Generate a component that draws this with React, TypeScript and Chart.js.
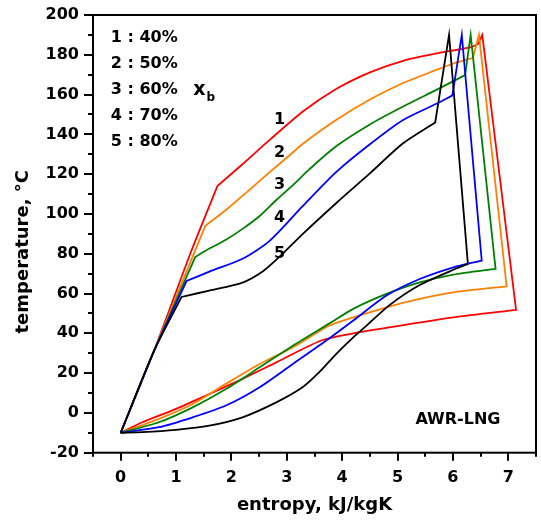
import React, { useEffect, useRef } from 'react';
import { Chart, registerables } from 'chart.js';

Chart.register(...registerables);

const FONT = '"DejaVu Sans", "Liberation Sans", sans-serif';

// ---- axes ----
const X_MIN = -0.5;
const X_MAX = 7.5;
const X_STEP = 0.5;
const Y_MIN = -20;
const Y_MAX = 200;
const Y_STEP = 20;
const Y_MINOR = 10;
const X_TITLE = 'entropy, kJ/kgK';
const Y_TITLE = 'temperature, °C';

// ---- series (entropy kJ/kgK, temperature °C) ----
const seriesNames = ['1 : 40%', '2 : 50%', '3 : 60%', '4 : 70%', '5 : 80%'];
const curveTags = ['1', '2', '3', '4', '5'];
const seriesColors = ['#ff0000', '#ff8000', '#008000', '#0000ff', '#000000'];

// curve 1 (40%)
const rise1 = [[0, -10], [0.6, 31], [1.27, 81]];
const hot1 = [[1.75, 114.2], [2.2, 125], [2.69, 137.2], [3.29, 151.5], [3.89, 162.8], [4.5, 171.2], [5.1, 177], [5.71, 180.7], [6.31, 183.7], [6.45, 185.3]];
const peak1 = [6.53, 190];
const cold1 = [[7.14, 51.8], [6.01, 48], [4.8, 42.8], [4.2, 40], [3.62, 36.4], [2.81, 25.4], [2.2, 17.1], [1.6, 9.5], [1, 2], [0.39, -4.7], [0, -10]];

// curve 2 (50%)
const rise2 = [[0, -10], [0.6, 31]];
const hot2 = [[1.53, 94.1], [1.9, 102], [2.32, 112], [2.69, 121], [3.05, 129.5], [3.29, 135.3], [3.89, 147.2], [4.5, 157.5], [5.1, 165.8], [5.71, 172.5], [6.0, 175.5], [6.36, 178.5]];
const peak2 = [6.47, 190];
const cold2 = [[6.97, 63.6], [6.01, 60.6], [5.4, 57.3], [4.8, 53.1], [4.2, 48], [3.77, 43.9], [3.11, 33], [2.51, 24.6], [1.9, 14.6], [1.3, 4.5], [0.69, -3], [0, -10]];

// curve 3 (60%)
const rise3 = [[0, -10], [0.6, 31]];
const hot3 = [[1.35, 78.5], [1.6, 82.6], [1.9, 87], [2.2, 92.5], [2.51, 99], [2.81, 107], [3.11, 114.5], [3.41, 122.5], [3.89, 134], [4.5, 145], [5.1, 154], [5.71, 162.5], [6.22, 169.8]];
const peak3 = [6.32, 190];
const cold3 = [[6.77, 72.4], [6.01, 69.5], [5.4, 65.6], [4.8, 59.8], [4.2, 52.3], [3.77, 45], [3.11, 33.8], [2.51, 22.9], [1.9, 12], [1.3, 2.8], [0.69, -4.7], [0, -10]];

// curve 4 (70%)
const rise4 = [[0, -10], [0.6, 31]];
const hot4 = [[1.19, 66.3], [1.6, 71], [2.2, 77.5], [2.69, 86.5], [3.29, 104], [3.89, 121], [4.5, 135], [5.1, 147.2], [5.71, 155.5], [5.99, 159.6]];
const peak4 = [6.16, 190];
const cold4 = [[6.52, 76.5], [6.01, 73.2], [5.4, 67.3], [4.8, 59], [4.2, 46.4], [3.77, 37.5], [3.11, 24.6], [2.51, 12.9], [1.9, 3.7], [1.3, -2.2], [0.69, -7.2], [0, -10]];

// curve 5 (80%)
const rise5 = [[0, -10], [0.6, 31]];
const hot5 = [[1.1, 58.3], [1.6, 61.5], [2.2, 65.5], [2.57, 71.2], [2.87, 78.5], [3.29, 90], [3.89, 105.4], [4.5, 120.4], [5.1, 135.5], [5.68, 146]];
const peak5 = [5.93, 190];
const cold5 = [[6.27, 74.9], [6.07, 72.7], [5.4, 64.3], [4.86, 54.3], [4.39, 42.6], [4.2, 38], [3.89, 29.6], [3.59, 20.6], [3.29, 13], [2.81, 5.3], [2.2, -2.2], [1.6, -6.4], [1, -8.5], [0.39, -9.7], [0, -10]];

// ---- annotations (data units) ----
const legendS = -0.18;
const legendT = [188.5, 175.5, 162.5, 149.4, 136.2];
const xbText = 'x';
const xbSub = 'b';
const xbS = 1.31;
const xbT = 159.8;
const tagS = 2.87;
const tagT = [147.2, 130.5, 114.6, 97.8, 79.9];
const noteText = 'AWR-LNG';
const noteS = 6.09;
const noteT = -3.5;
const yTitleT = 81;

type P = number[];
// corners (knee, bend, peak, corner) are doubled so the spline stays sharp there
function cycle(rise: P[], hot: P[], peak: P, cold: P[]) {
  const pts = [...rise, hot[0], ...hot, hot[hot.length - 1], peak, peak, cold[0], ...cold];
  return pts.map(([x, y]) => ({ x, y }));
}

const curves = [
  cycle(rise1, hot1, peak1, cold1),
  cycle(rise2, hot2, peak2, cold2),
  cycle(rise3, hot3, peak3, cold3),
  cycle(rise4, hot4, peak4, cold4),
  cycle(rise5, hot5, peak5, cold5),
];

const framePlugin = {
  id: 'frame',
  afterDraw(chart: any) {
    const { ctx, chartArea: a, scales } = chart;
    const xs = scales.x;
    const ys = scales.y;
    ctx.save();
    ctx.strokeStyle = '#000';
    ctx.lineWidth = 2;
    ctx.strokeRect(a.left, a.top, a.right - a.left, a.bottom - a.top);
    ctx.beginPath();
    for (let v = Y_MIN; v <= Y_MAX + 1e-9; v += Y_MINOR) {
      const p = Math.round(ys.getPixelForValue(v));
      const len = Math.abs(v % Y_STEP) < 1e-9 ? 9 : 5;
      ctx.moveTo(a.left - len, p);
      ctx.lineTo(a.left, p);
    }
    for (let v = X_MIN; v <= X_MAX + 1e-9; v += X_STEP) {
      const p = Math.round(xs.getPixelForValue(v));
      const len = Math.abs(v - Math.round(v)) < 1e-9 ? 8 : 4;
      ctx.moveTo(p, a.bottom);
      ctx.lineTo(p, a.bottom + len);
    }
    ctx.stroke();

    ctx.fillStyle = '#000';
    // legend of curve numbers
    ctx.font = `bold 16px ${FONT}`;
    ctx.textAlign = 'left';
    ctx.textBaseline = 'middle';
    seriesNames.forEach((t, i) => {
      ctx.fillText(t, xs.getPixelForValue(legendS), ys.getPixelForValue(legendT[i]));
    });
    // x_b
    ctx.textBaseline = 'alphabetic';
    ctx.font = `bold 19px ${FONT}`;
    const bx = xs.getPixelForValue(xbS);
    const by = ys.getPixelForValue(xbT);
    ctx.fillText(xbText, bx, by);
    const w = ctx.measureText(xbText).width;
    ctx.font = `bold 12px ${FONT}`;
    ctx.fillText(xbSub, bx + w + 1, by + 6);
    // curve tags
    ctx.font = `bold 16px ${FONT}`;
    ctx.textAlign = 'center';
    ctx.textBaseline = 'middle';
    curveTags.forEach((t, i) => {
      ctx.fillText(t, xs.getPixelForValue(tagS), ys.getPixelForValue(tagT[i]));
    });
    // note
    ctx.font = `bold 16px ${FONT}`;
    ctx.fillText(noteText, xs.getPixelForValue(noteS), ys.getPixelForValue(noteT));
    // y title
    ctx.font = `bold 18px ${FONT}`;
    ctx.translate(a.left - 70, ys.getPixelForValue(yTitleT));
    ctx.rotate(-Math.PI / 2);
    ctx.fillText(Y_TITLE, 0, 0);
    ctx.restore();
  },
};

const noEdgePadding = (s: any) => {
  s.paddingTop = 0;
  s.paddingBottom = 0;
  s.paddingLeft = 0;
  s.paddingRight = 0;
};

export default function App() {
  const ref = useRef<HTMLCanvasElement | null>(null);
  useEffect(() => {
    if (!ref.current) return;
    const chart = new Chart(ref.current, {
      type: 'scatter',
      data: {
        datasets: curves.map((pts, i) => ({
          label: seriesNames[i],
          data: pts,
          showLine: true,
          borderColor: seriesColors[i],
          backgroundColor: seriesColors[i],
          borderWidth: 1.8,
          pointRadius: 0,
          tension: 0.25,
          fill: false,
          order: seriesNames.length - i,
        })),
      },
      options: {
        responsive: false,
        animation: false,
        devicePixelRatio: 1,
        layout: { padding: { top: 15, right: 5, left: 0, bottom: 0 } },
        plugins: { legend: { display: false }, tooltip: { enabled: false } },
        scales: {
          x: {
            type: 'linear',
            min: X_MIN,
            max: X_MAX,
            grid: { display: false, drawTicks: false },
            border: { display: false },
            ticks: {
              stepSize: X_STEP,
              autoSkip: false,
              maxRotation: 0,
              padding: 16,
              color: '#000',
              font: { family: FONT, size: 16, weight: 'bold' },
              callback: (v: any) => (Math.abs(v - Math.round(v)) < 1e-9 ? String(Math.round(v)) : ''),
            },
            title: {
              display: true,
              text: X_TITLE,
              color: '#000',
              font: { family: FONT, size: 18, weight: 'bold' },
              padding: { top: 0, bottom: 9 },
            },
            afterFit: (s: any) => { s.height = 72.3; noEdgePadding(s); },
          },
          y: {
            type: 'linear',
            min: Y_MIN,
            max: Y_MAX,
            grid: { display: false, drawTicks: false },
            border: { display: false },
            ticks: {
              stepSize: Y_STEP,
              autoSkip: false,
              padding: 14,
              color: '#000',
              font: { family: FONT, size: 16, weight: 'bold' },
            },
            afterFit: (s: any) => { s.width = 93; noEdgePadding(s); },
          },
        },
      },
      plugins: [framePlugin],
    });
    return () => chart.destroy();
  }, []);
  return (
    <div style={{ position: 'fixed', left: 0, top: 0, width: 541, height: 525, background: '#fff' }}>
      <canvas ref={ref} width={541} height={525} />
    </div>
  );
}
